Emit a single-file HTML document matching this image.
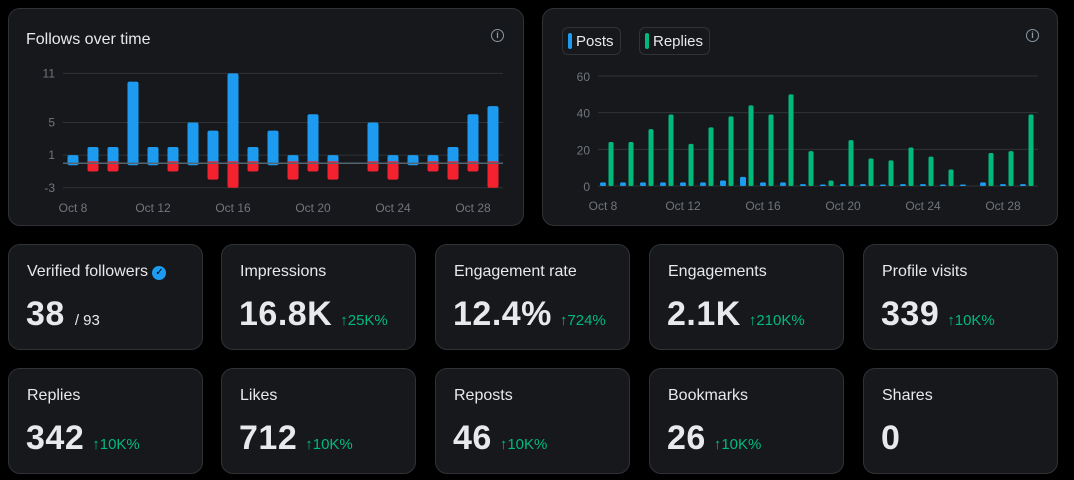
<!DOCTYPE html>
<html><head><meta charset="utf-8"><style>
body{margin:0;background:#000;width:1074px;height:480px;position:relative;overflow:hidden;font-family:"Liberation Sans",Arial,sans-serif;color:#e7e9ea}
.card{position:absolute;background:#16181c;border:1px solid #2f3336;border-radius:12px;box-sizing:border-box}
.lbl{position:absolute;left:18px;top:18px;font-size:16px;color:#e7e9ea}
.num{position:absolute;left:17px;top:50px;font-size:34px;font-weight:bold;white-space:nowrap;letter-spacing:0.5px}
.chg{font-size:15px;font-weight:normal;color:#00ba7c;margin-left:8px;letter-spacing:0}
.sub{font-size:15px;font-weight:normal;margin-left:10px;letter-spacing:0}
.info{position:absolute;width:11px;height:11px;border:1.5px solid #8b98a5;border-radius:50%;font-size:9px;color:#8b98a5;text-align:center;line-height:11px;font-weight:bold}
svg text{font-family:"Liberation Sans",Arial,sans-serif;font-size:12px;fill:#71767b}
.leg{position:absolute;top:18px;height:28px;border:1px solid #2f3336;border-radius:6px;font-size:15px;line-height:28px;padding:0 6px 0 5px;box-sizing:border-box}
.leg i{display:inline-block;width:4px;height:16px;border-radius:2px;vertical-align:-3px;margin-right:4px}
</style></head><body>
<div class="card" style="left:8px;top:8px;width:516px;height:218px">
<div style="position:absolute;left:17px;top:22px;font-size:16px">Follows over time</div>
<div class="info" style="left:482px;top:20px">i</div>
</div>
<div class="card" style="left:542px;top:8px;width:516px;height:218px">
<div class="leg" style="left:19px"><i style="background:#1d9bf0"></i>Posts</div>
<div class="leg" style="left:96px"><i style="background:#00ba7c"></i>Replies</div>
<div class="info" style="left:483px;top:20px">i</div>
</div>
<svg id="chart" width="1074" height="230" style="position:absolute;left:0;top:0"></svg>

<div class="card" style="left:8px;top:244px;width:195px;height:106px"><div class="lbl">Verified followers <span style="display:inline-block;width:14px;height:14px;border-radius:50%;background:#1d9bf0;color:#000;font-size:10px;text-align:center;line-height:14px;vertical-align:1px">✓</span></div><div class="num">38<span class="sub">/ 93</span></div></div>
<div class="card" style="left:221px;top:244px;width:195px;height:106px"><div class="lbl">Impressions</div><div class="num">16.8K<span class="chg">↑25K%</span></div></div>
<div class="card" style="left:435px;top:244px;width:195px;height:106px"><div class="lbl">Engagement rate</div><div class="num">12.4%<span class="chg">↑724%</span></div></div>
<div class="card" style="left:649px;top:244px;width:195px;height:106px"><div class="lbl">Engagements</div><div class="num">2.1K<span class="chg">↑210K%</span></div></div>
<div class="card" style="left:863px;top:244px;width:195px;height:106px"><div class="lbl">Profile visits</div><div class="num">339<span class="chg">↑10K%</span></div></div>
<div class="card" style="left:8px;top:368px;width:195px;height:106px"><div class="lbl">Replies</div><div class="num">342<span class="chg">↑10K%</span></div></div>
<div class="card" style="left:221px;top:368px;width:195px;height:106px"><div class="lbl">Likes</div><div class="num">712<span class="chg">↑10K%</span></div></div>
<div class="card" style="left:435px;top:368px;width:195px;height:106px"><div class="lbl">Reposts</div><div class="num">46<span class="chg">↑10K%</span></div></div>
<div class="card" style="left:649px;top:368px;width:195px;height:106px"><div class="lbl">Bookmarks</div><div class="num">26<span class="chg">↑10K%</span></div></div>
<div class="card" style="left:863px;top:368px;width:195px;height:106px"><div class="lbl">Shares</div><div class="num">0</div></div>
<script>
const days=["Oct 8","Oct 9","Oct 10","Oct 11","Oct 12","Oct 13","Oct 14","Oct 15","Oct 16","Oct 17","Oct 18","Oct 19","Oct 20","Oct 21","Oct 22","Oct 23","Oct 24","Oct 25","Oct 26","Oct 27","Oct 28","Oct 29"];
const follows=[1,2,2,10,2,2,5,4,11,2,4,1,6,1,0,5,1,1,1,2,6,7];
const unfollows=[0,-1,-1,0,0,-1,0,-2,-3,-1,0,-2,-1,-2,0,-1,-2,0,-1,-2,-1,-3];
const followTicks=[11,5,1,-3];
const posts=[2,2,2,2,2,2,3,5,2,2,1,0,1,1,0,1,1,0,0,2,1,1];
const replies=[24,24,31,39,23,32,38,44,39,50,19,3,25,15,14,21,16,9,0,18,19,39];
const replyTicks=[60,40,20,0];
const labelIdx=[0,4,8,12,16,20];
const svg=document.getElementById('chart');const NS='http://www.w3.org/2000/svg';
function mk(t,a,name){const e=document.createElementNS(NS,t);for(const k in a)e.setAttribute(k,a[k]);


svg.appendChild(e);return e;}
// left chart
const lx=i=>73+i*20, ly=v=>163.3-v*8.17;
followTicks.forEach(t=>{mk('line',{x1:63,x2:503,y1:ly(t),y2:ly(t),stroke:'#2f3336'},'y-gridline');const tx=mk('text',{x:55,y:ly(t)+4,'text-anchor':'end','font-size':11},'y-tick-label');tx.textContent=t;});
follows.forEach((v,i)=>{if(v>0)mk('rect',{x:lx(i)-5.5,y:ly(v),width:11,height:ly(0)-ly(v)+2,rx:2,fill:'#1d9bf0'},'follows-bar');});
unfollows.forEach((v,i)=>{if(v<0)mk('rect',{x:lx(i)-5.5,y:ly(0)-2,width:11,height:ly(v)-ly(0)+2,rx:2,fill:'#f4212e'},'unfollows-bar');});
mk('line',{x1:63,x2:503,y1:ly(0),y2:ly(0),stroke:'#536471','stroke-width':1.5},'zero-line');
labelIdx.forEach(i=>{const tx=mk('text',{x:lx(i),y:212,'text-anchor':'middle'},'x-tick-label');tx.textContent=days[i];});
// right chart
const rx=i=>603+i*20, ry=v=>186-v*1.833;
replyTicks.forEach(t=>{mk('line',{x1:598,x2:1038,y1:ry(t),y2:ry(t),stroke:'#2f3336'},'y-gridline');const tx=mk('text',{x:590,y:ry(t)+5,'text-anchor':'end','font-size':13},'y-tick-label');tx.textContent=t;});
posts.forEach((v,i)=>{const h=Math.max(ry(0)-ry(v),1.5);mk('rect',{x:rx(i)-3,y:ry(0)-h,width:6,height:h,rx:1.5,fill:'#1d9bf0'},'posts-bar');});
replies.forEach((v,i)=>{if(v>0)mk('rect',{x:rx(i)+5.5,y:ry(v),width:5,height:ry(0)-ry(v),rx:1.5,fill:'#00ba7c'},'replies-bar');});
labelIdx.forEach(i=>{const tx=mk('text',{x:rx(i),y:210,'text-anchor':'middle'},'x-tick-label');tx.textContent=days[i];});
</script>
</body></html>
